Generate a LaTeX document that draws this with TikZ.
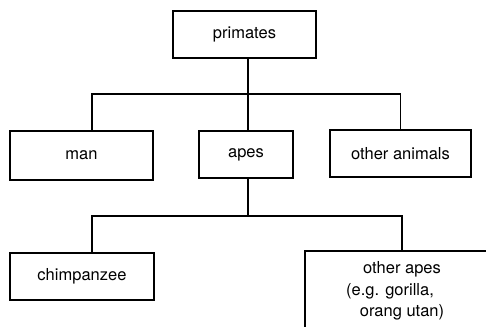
\documentclass[tikz,border=0pt]{standalone}
\usepackage{fontspec}
\setmainfont{TeX Gyre Heros}
\usepackage{tikz}
\usetikzlibrary{calc}
\tikzstyle{taxon}=[draw, line width=1.2pt, inner sep=0pt, minimum height=47pt, font=\fontsize{16.5}{21.5}\selectfont]
\tikzstyle{branch}=[line width=1.2pt]

\begin{document}
\begin{tikzpicture}[x=1pt,y=-1pt]
	\useasboundingbox (0,0) rectangle (486,326);
	\clip (0,0) rectangle (486,326);
	\node[taxon, minimum width=143pt] (primates) at (244.5,34.5) {primates};
	\node[taxon, minimum width=143pt, minimum height=49pt] (man) at (81.5,155.5) {man};
	\node[taxon, minimum width=94pt] (apes) at (246,154.5) {apes};
	\node[taxon, minimum width=141pt] (others) at (400.5,153.5) {other animals};
	\node[taxon, minimum width=144pt] (chimp) at (82,276.5) {chimpanzee};
	\node[taxon, minimum width=194pt, minimum height=80pt, align=center] (otherapes) at (402,291) {other apes\\(e.g. gorilla,\hspace*{24pt}\mbox{}\\orang utan)};
	% first split
	\coordinate (fork1) at (248,94);
	\draw[branch] ([xshift=3.5pt]primates.south) -- (fork1);
	\draw[branch] ([xshift=10.5pt]man.north) |- (fork1) -| (others.north);
	\draw[branch] ([xshift=2pt]apes.north) -- (fork1);
	% second split
	\coordinate (fork2) at (248,216);
	\draw[branch] ([xshift=2pt]apes.south) -- (fork2);
	\draw[branch] ([xshift=10pt]chimp.north) |- (fork2) -| (otherapes.north);
\end{tikzpicture}
\end{document}
